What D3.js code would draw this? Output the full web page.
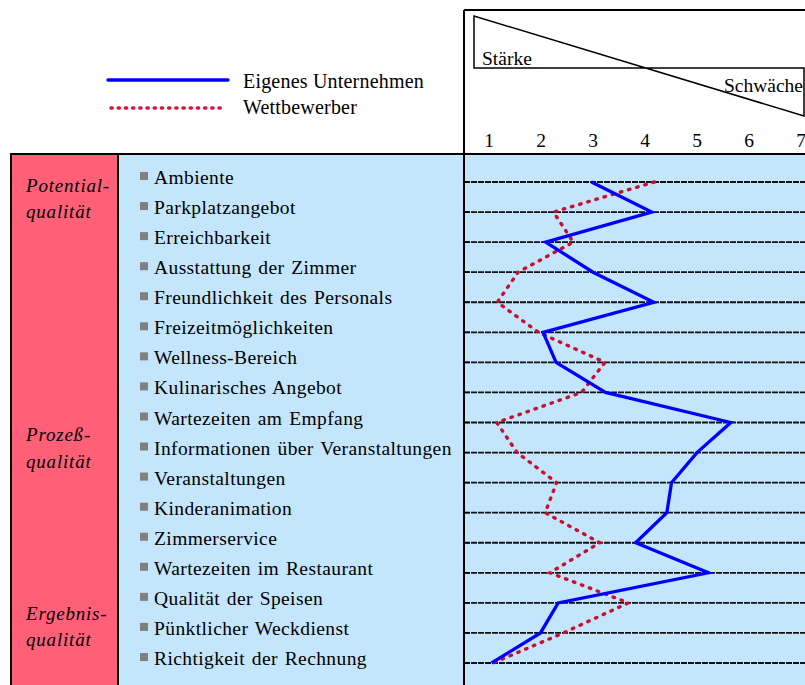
<!DOCTYPE html>
<html><head><meta charset="utf-8">
<script src="https://cdn.jsdelivr.net/npm/d3@7"></script>
<style>body{margin:0;background:#fff}svg{display:block}text{font-family:"Liberation Serif","Times New Roman",serif}</style>
</head><body><svg id="c" width="805" height="685"></svg>
<script>
const items = ["Ambiente","Parkplatzangebot","Erreichbarkeit","Ausstattung der Zimmer","Freundlichkeit des Personals","Freizeitmöglichkeiten","Wellness-Bereich","Kulinarisches Angebot","Wartezeiten am Empfang","Informationen über Veranstaltungen","Veranstaltungen","Kinderanimation","Zimmerservice","Wartezeiten im Restaurant","Qualität der Speisen","Pünktlicher Weckdienst","Richtigkeit der Rechnung"];
const eigenes = [2.97,4.13,2.09,3.0,4.17,2.04,2.29,3.24,5.65,5.0,4.51,4.42,3.82,5.22,2.33,1.99,1.05];
const wettbewerber = [4.18,2.24,2.62,1.56,1.16,1.95,3.23,2.78,1.15,1.54,2.30,2.08,3.13,2.17,3.68,2.43,1.08];
const ticks = [1,2,3,4,5,6,7];
const groups = [["Potential-","qualität"],["Prozeß-","qualität"],["Ergebnis-","qualität"]];
const seriesNames = ["Eigenes Unternehmen","Wettbewerber"];

const svg = d3.select("#c");
const x = d3.scaleLinear().domain([1,7]).range([489,801]);
const y = d3.scalePoint().domain(items).range([182,663]);
const RED="#ff6078", BLUE="#c4e6fc", DOT="#c8102e";

// panels
svg.append("rect").attr("x",10).attr("y",154).attr("width",108).attr("height",540).attr("fill",RED);
svg.append("rect").attr("x",118).attr("y",154).attr("width",700).attr("height",540).attr("fill",BLUE);
svg.append("line").attr("x1",10).attr("x2",805).attr("y1",154).attr("y2",154).attr("stroke","#000").attr("stroke-width",2);
svg.append("line").attr("x1",11).attr("x2",11).attr("y1",154).attr("y2",685).attr("stroke","#000").attr("stroke-width",2);
svg.append("line").attr("x1",118).attr("x2",118).attr("y1",154).attr("y2",685).attr("stroke","#000").attr("stroke-width",2);
svg.append("line").attr("x1",464).attr("x2",464).attr("y1",10).attr("y2",685).attr("stroke","#000").attr("stroke-width",2);
svg.append("line").attr("x1",464).attr("x2",805).attr("y1",10).attr("y2",10).attr("stroke","#000").attr("stroke-width",2);

// header triangle
svg.append("path").attr("d","M474,68 L474,16 L804,116 L804,68 Z").attr("fill","none").attr("stroke","#000").attr("stroke-width",1.5);
svg.append("text").attr("x",482).attr("y",65).attr("font-size",19.5).text("Stärke");
svg.append("text").attr("x",803).attr("y",92).attr("font-size",19.5).attr("text-anchor","end").text("Schwäche");

// tick labels
svg.selectAll("text.tick").data(ticks).join("text").attr("class","tick")
  .attr("x",d=>x(d)).attr("y",147).attr("text-anchor","middle").attr("font-size",19.5).text(d=>d);

// dashed row lines
svg.selectAll("line.row").data(items).join("line").attr("class","row")
  .attr("x1",464).attr("x2",805).attr("y1",d=>y(d)).attr("y2",d=>y(d))
  .attr("stroke","#111").attr("stroke-width",1.8).attr("stroke-dasharray","6,1");
svg.selectAll("line.tk").data(items).join("line").attr("class","tk")
  .attr("x1",464).attr("x2",470).attr("y1",d=>y(d)).attr("y2",d=>y(d)).attr("stroke","#000").attr("stroke-width",1.5);

// item labels
const it = svg.selectAll("g.item").data(items).join("g").attr("class","item")
  .attr("transform",d=>`translate(0,${y(d)})`);
it.append("rect").attr("x",140).attr("y",-10).attr("width",8).attr("height",8).attr("fill","#808080");
it.append("text").attr("x",154).attr("y",2).attr("font-size",19.5).attr("word-spacing",1.5).attr("letter-spacing",0.4).text(d=>d);

// group labels
const gy = [[192,218],[441,468],[620,646]];
groups.forEach((g,i)=>{
  g.forEach((t,j)=>svg.append("text").attr("x",26).attr("y",gy[i][j]).attr("font-size",19)
    .attr("font-style","italic").attr("letter-spacing",0.8).text(t));
});

// lines
const line = d3.line().x(d=>x(d.v)).y(d=>y(d.k));
svg.append("path").datum(wettbewerber.map((v,i)=>({v,k:items[i]})))
  .attr("d",line).attr("fill","none").attr("stroke",DOT).attr("stroke-width",3.4)
  .attr("stroke-dasharray","1.5,7").attr("stroke-linecap","round");
svg.append("path").datum(eigenes.map((v,i)=>({v,k:items[i]})))
  .attr("d",line).attr("fill","none").attr("stroke","#0000ff").attr("stroke-width",3.3);

// legend
svg.append("line").attr("x1",108).attr("x2",228).attr("y1",80).attr("y2",80).attr("stroke","#0000ff").attr("stroke-width",3.5).attr("stroke-linecap","round");
svg.append("line").attr("x1",111).attr("x2",223).attr("y1",108).attr("y2",108).attr("stroke","#e0103a").attr("stroke-width",3.5).attr("stroke-dasharray","1.2,6").attr("stroke-linecap","round");
svg.append("text").attr("x",243).attr("y",88).attr("font-size",20).attr("letter-spacing",0.2).text(seriesNames[0]);
svg.append("text").attr("x",243).attr("y",114).attr("font-size",20).attr("letter-spacing",0.2).text(seriesNames[1]);
</script></body></html>
